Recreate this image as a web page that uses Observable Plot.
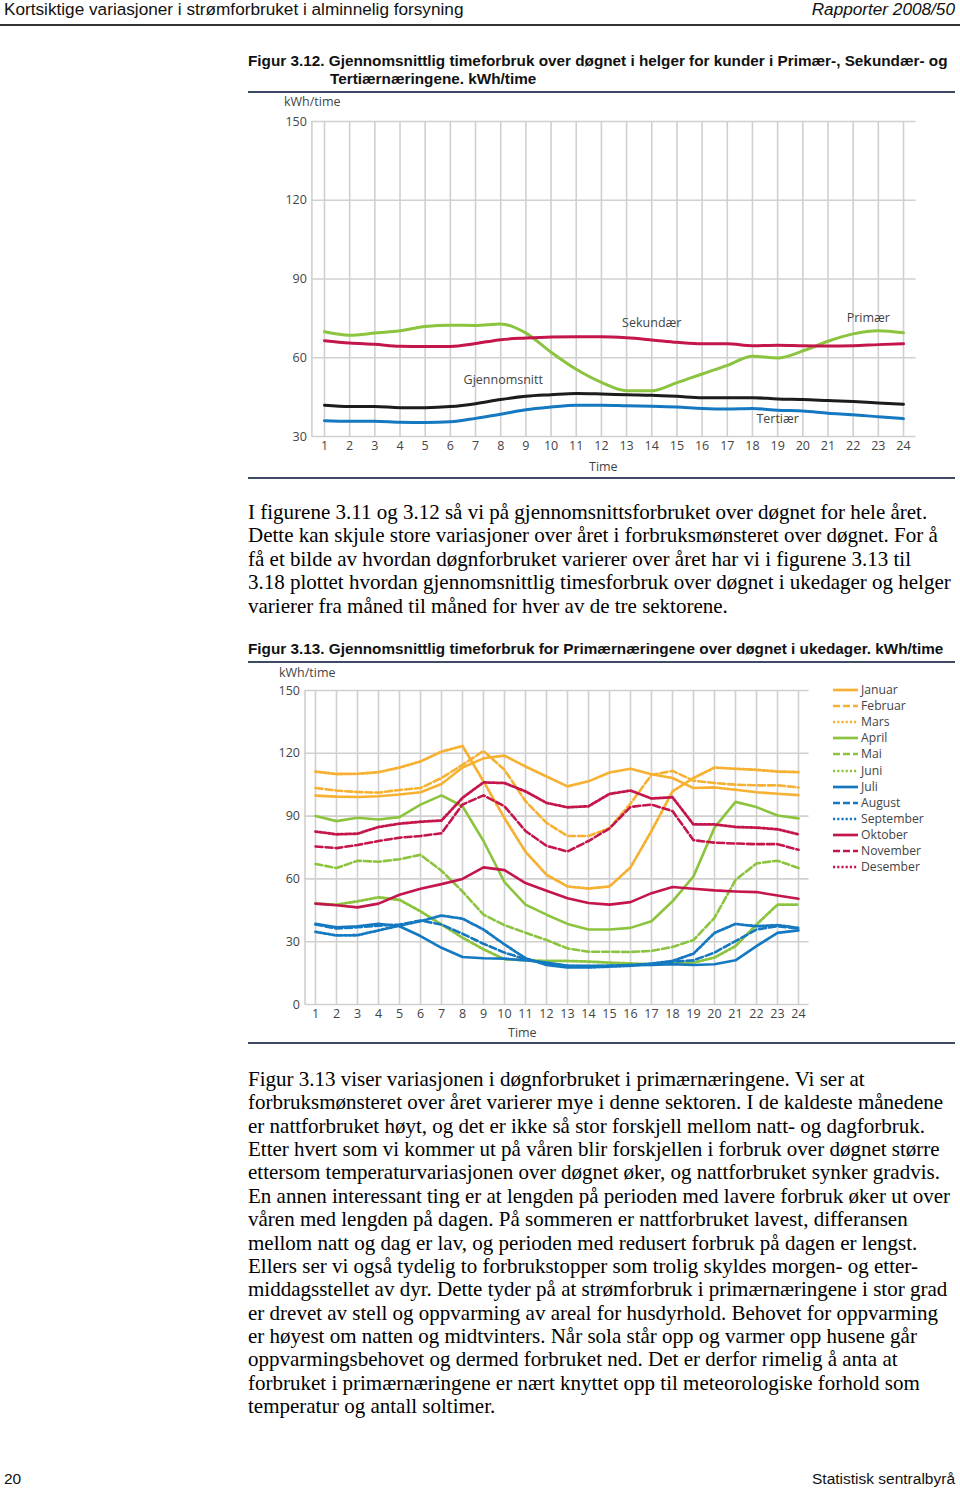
<!DOCTYPE html>
<html><head><meta charset="utf-8">
<script src="https://cdn.jsdelivr.net/npm/d3@7"></script>
<script src="https://cdn.jsdelivr.net/npm/@observablehq/plot@0.6"></script>
<style>
html,body{margin:0;padding:0;background:#fff}
body{width:960px;height:1489px;position:relative;overflow:hidden}
.abs{position:absolute;white-space:nowrap}
.hdr{font-family:"Liberation Sans",Arial,sans-serif;font-size:17.2px;line-height:18px;color:#111}
.ftitle{font-family:"Liberation Sans",Arial,sans-serif;font-weight:bold;font-size:15.3px;line-height:18px;color:#111}
.rule{position:absolute;height:2px;background:#3f4a66}
.body{font-family:"Liberation Serif","Times New Roman",serif;font-size:21px;line-height:23.4px;color:#000}
.ax{font-family:"Open Sans",sans-serif;font-size:12.5px;color:#444;line-height:14px}
.leg{position:absolute;left:833px;font-family:"Open Sans",sans-serif;font-size:12.2px;color:#444;line-height:16px;display:flex;align-items:center}
.leg svg{margin-right:3px}
</style>
</head>
<body>
<div class="abs hdr" style="left:4px;top:0px">Kortsiktige variasjoner i strømforbruket i alminnelig forsyning</div>
<div class="abs hdr" style="right:5px;top:0px;font-style:italic">Rapporter 2008/50</div>
<div class="rule" style="left:0;width:960px;top:24px;height:2px;background:#333"></div>

<div class="abs ftitle" style="left:248px;top:52px">Figur 3.12. Gjennomsnittlig timeforbruk over døgnet i helger for kunder i Primær-, Sekundær- og</div>
<div class="abs ftitle" style="left:330px;top:70px">Tertiærnæringene. kWh/time</div>
<div class="rule" style="left:248px;width:707px;top:91px"></div>
<div class="abs ax" style="left:284px;top:95px">kWh/time</div>
<div id="chart1" class="abs" style="left:248px;top:110px"></div>
<div class="abs ax" style="left:589px;top:460px">Time</div>
<div class="rule" style="left:248px;width:707px;top:477px"></div>

<div class="abs body" style="left:248px;top:501px">
I figurene 3.11 og 3.12 så vi på gjennomsnittsforbruket over døgnet for hele året.<br>
Dette kan skjule store variasjoner over året i forbruksmønsteret over døgnet. For å<br>
få et bilde av hvordan døgnforbruket varierer over året har vi i figurene 3.13 til<br>
3.18 plottet hvordan gjennomsnittlig timesforbruk over døgnet i ukedager og helger<br>
varierer fra måned til måned for hver av de tre sektorene.
</div>

<div class="abs ftitle" style="left:248px;top:640px">Figur 3.13. Gjennomsnittlig timeforbruk for Primærnæringene over døgnet i ukedager. kWh/time</div>
<div class="rule" style="left:248px;width:707px;top:661px"></div>
<div class="abs ax" style="left:279px;top:666px">kWh/time</div>
<div id="chart2" class="abs" style="left:248px;top:680px"></div>
<div id="legend"></div>
<div class="abs ax" style="left:508px;top:1026px">Time</div>
<div class="rule" style="left:248px;width:707px;top:1042px"></div>

<div class="abs body" style="left:248px;top:1068px;line-height:23.36px">
Figur 3.13 viser variasjonen i døgnforbruket i primærnæringene. Vi ser at<br>
forbruksmønsteret over året varierer mye i denne sektoren. I de kaldeste månedene<br>
er nattforbruket høyt, og det er ikke så stor forskjell mellom natt- og dagforbruk.<br>
Etter hvert som vi kommer ut på våren blir forskjellen i forbruk over døgnet større<br>
ettersom temperaturvariasjonen over døgnet øker, og nattforbruket synker gradvis.<br>
En annen interessant ting er at lengden på perioden med lavere forbruk øker ut over<br>
våren med lengden på dagen. På sommeren er nattforbruket lavest, differansen<br>
mellom natt og dag er lav, og perioden med redusert forbruk på dagen er lengst.<br>
Ellers ser vi også tydelig to forbrukstopper som trolig skyldes morgen- og etter-<br>
middagsstellet av dyr. Dette tyder på at strømforbruk i primærnæringene i stor grad<br>
er drevet av stell og oppvarming av areal for husdyrhold. Behovet for oppvarming<br>
er høyest om natten og midtvinters. Når sola står opp og varmer opp husene går<br>
oppvarmingsbehovet og dermed forbruket ned. Det er derfor rimelig å anta at<br>
forbruket i primærnæringene er nært knyttet opp til meteorologiske forhold som<br>
temperatur og antall soltimer.
</div>

<div class="abs hdr" style="left:4px;top:1470px;font-size:15.5px">20</div>
<div class="abs hdr" style="right:5px;top:1470px;font-size:15.5px">Statistisk sentralbyrå</div>

<script>
// ---------- DATA ----------
const hours = [1,2,3,4,5,6,7,8,9,10,11,12,13,14,15,16,17,18,19,20,21,22,23,24];

// Figure 3.12 (weekend, kWh/time)
const sectors = ["Primær", "Sekundær", "Gjennomsnitt", "Tertiær"];
const primaer      = [69.9,68.6,69.4,70.3,71.9,72.4,72.3,72.9,69.4,62.1,55.6,50.6,47.4,47.4,50.5,53.8,57.1,60.6,59.9,62.6,66.3,69.1,70.3,69.5];
const sekundaer    = [66.5,65.6,65.1,64.4,64.3,64.3,65.4,66.9,67.5,67.9,68.0,68.0,67.6,66.8,65.9,65.3,65.3,64.6,64.8,64.6,64.5,64.6,65.0,65.3];
const gjennomsnitt = [41.9,41.4,41.4,41.0,41.0,41.4,42.5,44.1,45.3,45.9,46.4,46.2,45.9,45.7,45.3,44.8,44.8,44.8,44.3,44.1,43.7,43.3,42.8,42.3];
const tertiaer     = [36.0,35.8,35.8,35.4,35.3,35.6,36.9,38.5,40.2,41.2,41.9,41.9,41.7,41.5,41.2,40.7,40.5,40.7,40.0,39.7,38.9,38.3,37.5,36.8];
const labelNames = ["Sekundær", "Primær", "Gjennomsnitt", "Tertiær"];
const labelHour  = [14.0, 22.6, 8.1, 19.0];
const labelValue = [73.2, 75.0, 51.5, 36.5];
const yTicks1 = [30, 60, 90, 120, 150];

// Figure 3.13 (primary sector, weekdays, kWh/time)
const months = ["Januar","Februar","Mars","April","Mai","Juni","Juli","August","September","Oktober","November","Desember"];
const januar    = [99.8,99.3,99.1,99.5,100.3,101.4,105.3,113.2,117.6,118.9,113.7,108.9,104.2,106.6,110.8,112.6,110.0,108.2,103.4,103.7,102.6,101.4,100.7,100.0];
const februar   = [103.4,102.2,101.5,101.2,102.5,103.4,108.2,114.5,121.1,112.1,97.1,86.8,80.5,80.5,84.3,96.0,109.7,111.6,106.9,105.8,105.0,104.7,104.7,103.7];
const mars      = [111.3,110.1,110.2,111.0,113.2,116.1,120.8,123.5,106.6,89.0,73.0,62.0,56.4,55.4,56.4,65.5,82.9,101.8,108.2,113.2,112.6,112.1,111.3,111.0];
const april     = [90.0,87.6,89.2,88.4,89.5,95.5,99.9,94.7,78.1,58.5,47.7,42.9,38.5,35.8,35.8,36.6,39.8,49.3,61.2,84.5,96.8,94.3,90.3,88.9];
const mai       = [67.1,65.2,68.7,68.2,69.4,71.5,63.9,54.0,42.9,37.9,34.3,30.8,26.8,25.2,25.2,25.1,25.6,27.5,30.8,41.4,59.5,67.4,68.7,65.2];
const juni      = [48.2,47.7,49.3,51.2,50.0,44.5,38.2,31.9,26.4,21.6,21.2,20.8,20.8,20.5,20.0,19.6,19.2,19.6,20.0,22.4,27.9,38.2,47.7,47.7];
const juli      = [38.5,36.9,37.4,38.5,37.4,32.7,27.1,22.7,22.1,21.9,21.1,20.0,18.5,18.5,18.5,18.8,18.9,19.2,18.9,19.2,21.1,27.9,34.2,35.4];
const august    = [38.2,36.3,36.9,37.7,38.2,40.1,38.2,33.8,29.0,24.8,21.6,19.6,18.5,18.2,18.5,18.8,19.2,20.5,21.1,24.8,30.3,35.8,37.4,36.3];
const september = [34.7,33.0,33.1,35.4,37.7,39.8,42.5,41.0,35.8,28.7,22.1,18.9,17.7,17.7,18.1,18.5,19.6,20.8,24.3,34.2,38.5,37.4,37.9,36.6];
const oktober   = [48.2,47.4,46.4,48.2,52.4,55.3,57.5,60.0,65.5,64.2,58.0,54.3,50.8,48.5,47.7,48.9,53.2,56.1,55.3,54.5,54.0,53.7,52.1,50.5];
const november  = [75.5,74.7,76.2,78.1,79.7,80.5,81.8,95.5,99.9,94.7,82.9,75.8,73.1,78.1,84.1,94.4,95.5,92.4,78.5,77.3,76.9,76.6,76.6,73.9];
const desember  = [82.6,81.3,81.6,84.8,86.4,87.3,87.9,98.7,106.1,105.8,101.8,96.3,94.2,94.7,100.6,102.2,98.4,99.0,86.0,86.0,84.8,84.5,83.7,81.3];
const yTicks2 = [0, 30, 60, 90, 120, 150];

// ---------- STYLES ----------
const ORANGE = "#f6b132", GREEN = "#8cc43f", BLUE = "#1479c0", CRIMSON = "#c4164b", BLACK = "#1c1c1c";
const GRID = "#d0d0d0";
const sectorColor = {"Primær": GREEN, "Sekundær": CRIMSON, "Gjennomsnitt": BLACK, "Tertiær": BLUE};
const monthColor = [ORANGE,ORANGE,ORANGE,GREEN,GREEN,GREEN,BLUE,BLUE,BLUE,CRIMSON,CRIMSON,CRIMSON];
const DASHES = [null, "7,3", "2.2,2"];

// ---------- CHART 1 ----------
const sectorValues = [primaer, sekundaer, gjennomsnitt, tertiaer];
const rows1 = sectors.flatMap((s, i) => hours.map((h, j) => ({sector: s, hour: h, value: sectorValues[i][j]})));
const labels1 = labelNames.map((n, i) => ({name: n, hour: labelHour[i], value: labelValue[i]}));

const chart1 = Plot.plot({
  width: 712, height: 370,
  marginLeft: 63.4, marginRight: 44.4, marginTop: 11, marginBottom: 44,
  style: {fontFamily: "'Open Sans', sans-serif", fontSize: "12.5px", color: "#444", background: "transparent"},
  x: {domain: [0.5, 24.5], ticks: hours, tickSize: 0, tickPadding: 5, label: null, tickFormat: d => d},
  y: {domain: [30, 150], ticks: yTicks1, tickSize: 0, tickPadding: 5, label: null},
  marks: [
    Plot.ruleY(yTicks1, {stroke: GRID, strokeWidth: 1.6}),
    Plot.ruleX(hours, {y1: 30, y2: 150, stroke: GRID, strokeWidth: 1.6}),
    Plot.ruleX([0.5], {y1: 30, y2: 150, stroke: GRID, strokeWidth: 1.6}),
    Plot.line(rows1, {x: "hour", y: "value", z: "sector", stroke: d => sectorColor[d.sector], strokeWidth: 3, curve: "monotone-x"}),
    Plot.text(labels1, {x: "hour", y: "value", text: "name", fill: "#444", fontSize: 12.5})
  ]
});
document.getElementById("chart1").appendChild(chart1);

// ---------- CHART 2 ----------
const monthValues = [januar, februar, mars, april, mai, juni, juli, august, september, oktober, november, desember];
const rows2 = months.flatMap((m, i) => hours.map((h, j) => ({month: m, idx: i, hour: h, value: monthValues[i][j]})));

const chart2 = Plot.plot({
  width: 712, height: 360,
  marginLeft: 56.5, marginRight: 151.5, marginTop: 10, marginBottom: 36,
  style: {fontFamily: "'Open Sans', sans-serif", fontSize: "12.5px", color: "#444", background: "transparent"},
  x: {domain: [0.5, 24.5], ticks: hours, tickSize: 0, tickPadding: 5, label: null, tickFormat: d => d},
  y: {domain: [0, 150], ticks: yTicks2, tickSize: 0, tickPadding: 5, label: null},
  marks: [
    Plot.ruleY(yTicks2, {stroke: GRID, strokeWidth: 1.6}),
    Plot.ruleX(hours, {y1: 0, y2: 150, stroke: GRID, strokeWidth: 1.6}),
    Plot.ruleX([0.5], {y1: 0, y2: 150, stroke: GRID, strokeWidth: 1.6}),
    ...months.map((m, i) => Plot.line(rows2.filter(d => d.idx === i), {
      x: "hour", y: "value", stroke: monthColor[i], strokeWidth: i % 3 === 2 ? 2.8 : 2.6,
      strokeDasharray: DASHES[i % 3] || undefined
    }))
  ]
});
document.getElementById("chart2").appendChild(chart2);

// ---------- LEGEND ----------
const leg = document.getElementById("legend");
months.forEach((m, i) => {
  const div = document.createElement("div");
  div.className = "leg";
  div.style.top = (682 + i * 16.1) + "px";
  const dash = DASHES[i % 3];
  div.innerHTML = `<svg width="25" height="6"><line x1="0" x2="25" y1="3" y2="3" stroke="${monthColor[i]}" stroke-width="2.7" ${dash ? `stroke-dasharray="${dash}"` : ""}/></svg><span>${m}</span>`;
  leg.appendChild(div);
});
</script>
</body></html>
